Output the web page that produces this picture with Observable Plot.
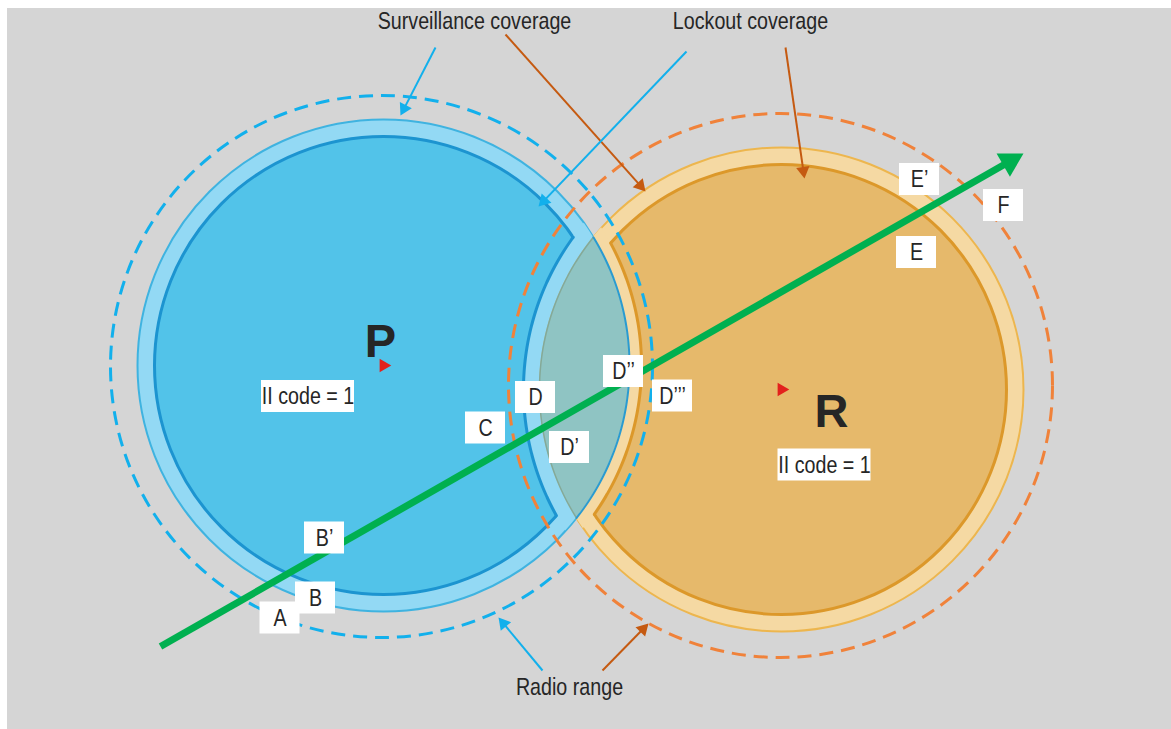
<!DOCTYPE html>
<html><head><meta charset="utf-8">
<script src="https://cdn.jsdelivr.net/npm/d3@7"></script>
<script src="https://cdn.jsdelivr.net/npm/@observablehq/plot@0.6"></script>
<style>html,body{margin:0;padding:0;background:#fff;} #chart svg{display:block}</style>
</head><body><div id="chart"></div>
<script>
// ---------- data (image coordinates, pixels) ----------
const panel = [{x1: 7, x2: 1171, y1: 8, y2: 729}];
const stations = ["P", "R"];
const stationX = [383, 781];
const stationY = [365, 389];
const surveillanceRadius = [246, 242];
const lockoutRadius = [229, 225];
const overlapCutRadius = [258, 258];
const radioX = [381, 780];
const radioY = [366, 385];
const radioRadius = [271, 272];
const stationLetterX = [380, 831];
const stationLetterY = [341, 411];
const iiCodeTexts = ["II code = 1", "II code = 1"];
const iiCodeX = [307.5, 824];
const iiCodeY = [396, 464.5];
const pointLabels = ["A", "B", "B’", "C", "D", "D’", "D’’", "D’’’", "E’", "F", "E"];
const pointLabelX = [279.5, 315, 324, 485, 535, 569, 623, 672, 919, 1003, 916];
const pointLabelY = [617.5, 597.5, 537.5, 427.5, 397, 447, 371, 395.5, 179, 205, 252];
const trackStart = [160, 646];
const trackTip = [1023, 153];
const calloutTexts = ["Surveillance coverage", "Lockout coverage", "Radio range"];
const calloutX = [474, 750, 569];
const calloutY = [21, 21, 687];
const arrowStation = ["P", "R", "P", "R", "P", "R"];
const arrowX1 = [435, 505, 686, 785, 542, 602];
const arrowY1 = [47, 34, 51, 47, 670, 670];
const arrowX2 = [400, 645, 538, 804, 498, 648];
const arrowY2 = [115, 191, 206, 178, 617, 623];

// ---------- styles ----------
const NARROW = "'Liberation Sans',Arial,sans-serif";
const NARROW_SCALE = 0.82; // Arial Narrow ≈ 82% of Arial width
const INK = "#262626";
const C = {
  bg: "#d5d5d5",
  pRing: "#93d9f4", pRingEdge: "#3fb3e0", pFill: "#52c3e9", pEdge: "#1c94d0", pDash: "#12b0ec",
  rRing: "#f5d9a3", rRingEdge: "#edb64e", rFill: "#e6b96b", rEdge: "#dc982a", rDash: "#f0823a",
  lens: "#8fc4c3", lensLeft: "#84a998", lensRight: "#2a9bd1",
  track: "#00b050", red: "#e3211c", arrowR: "#c55a11"
};

// ---------- derived tables ----------
const st = stations.map((name, i) => ({
  name, x: stationX[i], y: stationY[i],
  surv: surveillanceRadius[i], lock: lockoutRadius[i], cut: overlapCutRadius[i],
  rx: radioX[i], ry: radioY[i], radio: radioRadius[i],
  lx: stationLetterX[i], ly: stationLetterY[i]
}));
const [P, R] = st;

function intersect(c1, r1, c2, r2) {
  const dx = c2.x - c1.x, dy = c2.y - c1.y, d = Math.hypot(dx, dy);
  const a = (d * d + r1 * r1 - r2 * r2) / (2 * d), h = Math.sqrt(r1 * r1 - a * a);
  const ux = dx / d, uy = dy / d, bx = c1.x + a * ux, by = c1.y + a * uy;
  const p1 = {x: bx + h * uy, y: by - h * ux}, p2 = {x: bx - h * uy, y: by + h * ux};
  return p1.y < p2.y ? [p1, p2] : [p2, p1];
}
const cx = (c, r, side, y) => c.x + side * Math.sqrt(Math.max(0, r * r - (y - c.y) ** 2));
function ys(y0, y1) { const a = d3.range(y0, y1, 0.5); a.push(y1); return a; }
function lens(cL, rL, cR, rR) {
  const [t, b] = intersect(cL, rL, cR, rR);
  return ys(t.y, b.y).map(y => ({y, x1: cx(cR, rR, -1, y), x2: cx(cL, rL, 1, y)}));
}
function arc(c, r, side, [t, b]) {
  return ys(t.y, b.y).map(y => ({y, x: cx(c, r, side, y)}));
}

const bandP = lens(P, P.surv, R, R.cut);
const bandR = lens(P, P.cut, R, R.surv);
const lensCore = lens(P, P.surv, R, R.surv);
const pCutEdge = arc(R, R.cut, -1, intersect(P, P.lock, R, R.cut));
const rCutEdge = arc(P, P.cut, 1, intersect(P, P.cut, R, R.lock));
const lensTB = intersect(P, P.surv, R, R.surv);
const lensL = arc(R, R.surv, -1, lensTB);
const lensR = arc(P, P.surv, 1, lensTB);

function arrowRows(list, headR) {
  return list.map(a => {
    const dx = a.x2 - a.x1, dy = a.y2 - a.y1, L = Math.hypot(dx, dy);
    const ux = dx / L, uy = dy / L, k = 1.5551 * headR;
    return {...a, hx: a.x2 - ux * k, hy: a.y2 - uy * k,
      rot: Math.atan2(dy, dx) * 180 / Math.PI + 90};
  });
}
const track = arrowRows([{x1: trackStart[0], y1: trackStart[1], x2: trackTip[0], y2: trackTip[1]}], 10);
const callArrows = arrowRows(arrowStation.map((s, i) => ({s, x1: arrowX1[i], y1: arrowY1[i], x2: arrowX2[i], y2: arrowY2[i]})), 5);
const callouts = calloutTexts.map((t, i) => ({t, x: calloutX[i], y: calloutY[i]}));
const labels = pointLabels.map((t, i) => ({t, x: pointLabelX[i], y: pointLabelY[i], w: 40}))
  .concat(iiCodeTexts.map((t, i) => ({t, x: iiCodeX[i], y: iiCodeY[i], w: 93})));

const only = n => st.filter(d => d.name === n);

const chart = Plot.plot({
  width: 1171, height: 729, margin: 0,
  x: {domain: [0, 1171], range: [0, 1171], axis: null},
  y: {domain: [0, 729], range: [0, 729], axis: null},
  r: {type: "identity"},
  color: {type: "identity"},
  style: {background: "#ffffff", overflow: "visible"},
  marks: [
    Plot.rect(panel, {x1: "x1", x2: "x2", y1: "y1", y2: "y2", fill: C.bg}),
    Plot.dot(only("P"), {x: "x", y: "y", r: "surv", fill: C.pRing, stroke: C.pRingEdge, strokeWidth: 2}),
    Plot.dot(only("R"), {x: "x", y: "y", r: "surv", fill: C.rRing, stroke: C.rRingEdge, strokeWidth: 2}),
    Plot.dot(only("P"), {x: "x", y: "y", r: "lock", fill: C.pFill, stroke: C.pEdge, strokeWidth: 3}),
    Plot.dot(only("R"), {x: "x", y: "y", r: "lock", fill: C.rFill, stroke: C.rEdge, strokeWidth: 3}),
    Plot.areaX(bandP, {y: "y", x1: "x1", x2: "x2", fill: C.pRing}),
    Plot.areaX(bandR, {y: "y", x1: "x1", x2: "x2", fill: C.rRing}),
    Plot.areaX(lensCore, {y: "y", x1: "x1", x2: "x2", fill: C.lens}),
    Plot.line(pCutEdge, {x: "x", y: "y", stroke: C.pEdge, strokeWidth: 3}),
    Plot.line(rCutEdge, {x: "x", y: "y", stroke: C.rEdge, strokeWidth: 3}),
    Plot.line(lensL, {x: "x", y: "y", stroke: C.lensLeft, strokeWidth: 1.5}),
    Plot.line(lensR, {x: "x", y: "y", stroke: C.lensRight, strokeWidth: 2}),
    Plot.dot(st, {x: "x", y: "y", symbol: "triangle", r: 5, rotate: 90, fill: C.red, stroke: null}),
    Plot.dot(only("P"), {x: "rx", y: "ry", r: "radio", fill: "none", stroke: C.pDash, strokeWidth: 3, strokeDasharray: "14 8"}),
    Plot.dot(only("R"), {x: "rx", y: "ry", r: "radio", fill: "none", stroke: C.rDash, strokeWidth: 3, strokeDasharray: "14 8"}),
    Plot.text(st, {x: "lx", y: "ly", text: "name", fontSize: 47, fontWeight: "bold", fontFamily: "'Liberation Sans',Arial,sans-serif", fill: INK}),
    Plot.link(track, {x1: "x1", y1: "y1", x2: "hx", y2: "hy", stroke: C.track, strokeWidth: 7}),
    Plot.dot(track, {x: "hx", y: "hy", symbol: "triangle", r: 10, rotate: "rot", fill: C.track, stroke: null}),
    Plot.link(callArrows, {x1: "x1", y1: "y1", x2: "hx", y2: "hy", stroke: d => d.s === "P" ? C.pDash : C.arrowR, strokeWidth: 2}),
    Plot.dot(callArrows, {x: "hx", y: "hy", symbol: "triangle", r: 5, rotate: "rot", fill: d => d.s === "P" ? C.pDash : C.arrowR, stroke: null}),
    Plot.rect(labels, {x1: d => d.x - d.w / 2, x2: d => d.x + d.w / 2, y1: d => d.y - 16, y2: d => d.y + 16, fill: "white"}),
    Plot.text(labels, {x: "x", y: "y", text: "t", fontSize: 24, fontFamily: NARROW, fill: INK}),
    Plot.text(callouts, {x: "x", y: "y", text: "t", fontSize: 24, fontFamily: NARROW, fill: INK})
  ]
});
// condense the 24px texts horizontally (Arial Narrow is not installed)
chart.querySelectorAll('g[font-size="24"] text, g[font-size="24px"] text').forEach(t => {
  const tr = t.getAttribute("transform");
  if (tr) {
    t.setAttribute("transform", tr + ` scale(${NARROW_SCALE},1)`);
  } else {
    const x = +t.getAttribute("x") || 0, y = +t.getAttribute("y") || 0;
    t.removeAttribute("x"); t.removeAttribute("y");
    t.setAttribute("transform", `translate(${x},${y}) scale(${NARROW_SCALE},1)`);
  }
});
document.getElementById("chart").append(chart);
</script></body></html>
